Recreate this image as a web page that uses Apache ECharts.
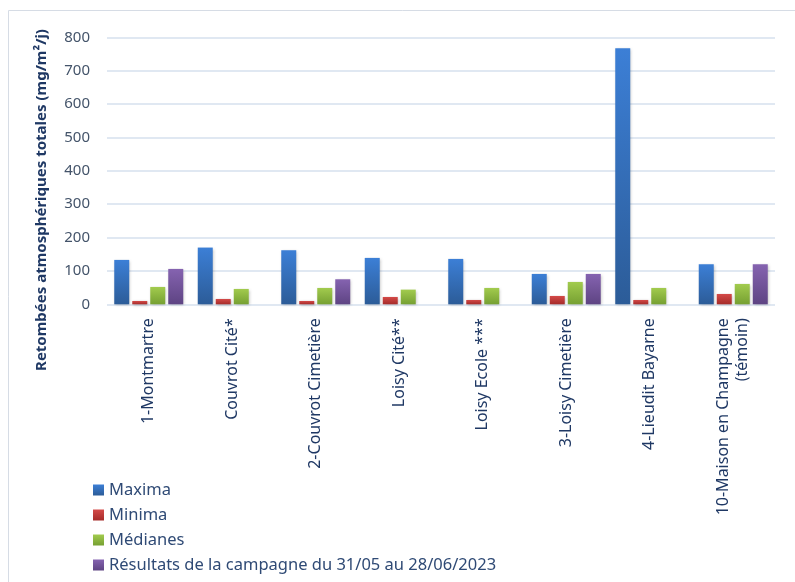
<!DOCTYPE html>
<html><head><meta charset="utf-8">
<script src="https://cdn.jsdelivr.net/npm/echarts@6/dist/echarts.min.js"></script>
<style>html,body{margin:0;padding:0;background:#fff}#c{width:795px;height:582px}</style>
</head><body><div id="c"></div>
<script>
const categories = ['1-Montmartre','Couvrot Cité*','2-Couvrot Cimetière','Loisy Cité**','Loisy Ecole ***','3-Loisy Cimetière','4-Lieudit Bayarne','10-Maison en Champagne\n(témoin)'];
const maxima = [133, 170, 162, 139, 136, 91, 767, 120];
const minima = [10, 16, 10, 22, 13, 25, 13, 31];
const medianes = [52, 46, 49, 44, 49, 67, 49, 61];
const campagne = [106, null, 75, null, null, 91, null, 120];
const yTicks = [0, 100, 200, 300, 400, 500, 600, 700, 800];

const grad = (top, bottom) => new echarts.graphic.LinearGradient(0,0,0,1,[{offset:0,color:top},{offset:1,color:bottom}]);
const font = 'Noto Sans, Liberation Sans, sans-serif';
const mk = (name, data, c1, c2) => ({
  name, type:'bar', data, barWidth:15, barGap:'20%', barCategoryGap:'17%',
  itemStyle:{color:grad(c1,c2), shadowColor:'rgba(0,0,0,0.25)', shadowBlur:3, shadowOffsetX:1, shadowOffsetY:1},
  emphasis:{disabled:true}
});
const chart = echarts.init(document.getElementById('c'));
chart.setOption({
  animation:false,
  graphic:[
    {type:'rect', shape:{x:8.5,y:10.5,width:790,height:580}, style:{fill:'none', stroke:'#D6DCE5', lineWidth:1}, silent:true},
    {type:'text', x:42, y:200, rotation:Math.PI/2, style:{text:'Retombées atmosphériques totales (mg/m²/j)', font:'bold 15px '+font, fill:'#1F3864', align:'center', verticalAlign:'middle'}}
  ],
  legend:{
    orient:'vertical', left:88, top:474, height:110, itemWidth:11, itemHeight:11, itemGap:3,
    icon:'rect', textStyle:{fontSize:16.5, color:'#2F4A75', fontFamily:font, lineHeight:22},
    data:['Maxima','Minima','Médianes','Résultats de la campagne du 31/05 au 28/06/2023']
  },
  grid:{left:107, right:20, top:37.3, bottom:277.7, containLabel:false},
  xAxis:{
    type:'category', data:categories,
    axisLine:{show:false}, axisTick:{show:false},
    axisLabel:{rotate:90, interval:0, margin:14, fontSize:16, color:'#1F3864', fontFamily:font, lineHeight:19, align:'right'}
  },
  yAxis:{
    type:'value', min:yTicks[0], max:yTicks[yTicks.length-1], interval:100,
    axisLine:{show:false}, axisTick:{show:false},
    axisLabel:{fontSize:15, color:'#44546A', margin:17, fontFamily:font},
    splitLine:{lineStyle:{color:'#D6E0EE', width:1.5}}
  },
  series:[
    mk('Maxima', maxima, '#3C7FD6', '#2C5C98'),
    mk('Minima', minima, '#D44A48', '#A52B29'),
    mk('Médianes', medianes, '#A2CB4E', '#76A032'),
    mk('Résultats de la campagne du 31/05 au 28/06/2023', campagne, '#8563B0', '#5E4483')
  ]
});
</script></body></html>
